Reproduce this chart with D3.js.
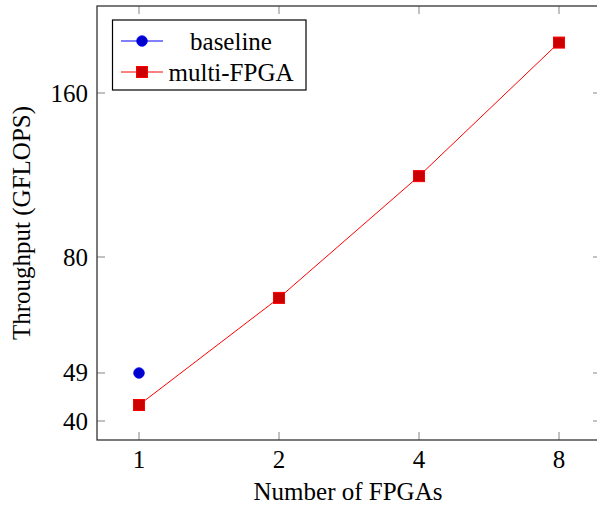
<!DOCTYPE html>
<html><head><meta charset="utf-8">
<script src="https://cdn.jsdelivr.net/npm/d3@7"></script>
<style>body{margin:0;background:#fff}svg{display:block}text{font-family:"Liberation Serif","Times New Roman",serif;fill:#000}</style>
</head><body>
<svg id="c" width="597" height="507"></svg>
<script>
const xTicks = [1, 2, 4, 8];
const yTicks = [40, 49, 80, 160];
const baselineX = [1];
const baselineY = [49];
const multiX = [1, 2, 4, 8];
const multiY = [42.8, 67.3, 112.6, 198];
const seriesNames = ["baseline", "multi-FPGA"];

const svg = d3.select("#c");
const L = 97, R = 601, T = 6, B = 440;
const x = d3.scaleLog().base(2).domain([0.8125, 9.85]).range([L, R]);
const y = d3.scaleLog().base(2).domain([36.92, 231]).range([B, T]);
// fit x: 1 -> 139, 8 -> 559
x.domain([Math.pow(2, (L-139)/140), Math.pow(2, 3 + (R-559)/140)]);
y.domain([40*Math.pow(2, (421-B)/164), 40*Math.pow(2, (421-T)/164)]);

const fs = 25;
const tickLen = 8;
const g = svg.append("g");
// ticks
xTicks.forEach(t => {
  const px = x(t);
  g.append("line").attr("x1", px).attr("x2", px).attr("y1", B).attr("y2", B - tickLen).attr("stroke", "#999").attr("stroke-width", 1.2);
  g.append("line").attr("x1", px).attr("x2", px).attr("y1", T).attr("y2", T + tickLen).attr("stroke", "#999").attr("stroke-width", 1.2);
  g.append("text").attr("x", px).attr("y", 468).attr("text-anchor", "middle").attr("font-size", fs).text(t);
});
yTicks.forEach(t => {
  const py = y(t);
  g.append("line").attr("x1", L).attr("x2", L + tickLen).attr("y1", py).attr("y2", py).attr("stroke", "#999").attr("stroke-width", 1.2);
  g.append("line").attr("x1", R).attr("x2", R - tickLen).attr("y1", py).attr("y2", py).attr("stroke", "#999").attr("stroke-width", 1.2);
  g.append("text").attr("x", 88).attr("y", py + 8.5).attr("text-anchor", "end").attr("font-size", fs).text(t);
});
// frame
g.append("rect").attr("x", L).attr("y", T).attr("width", R - L).attr("height", B - T)
  .attr("fill", "none").attr("stroke", "#333").attr("stroke-width", 1.3);

// multi-FPGA line
const multi = multiX.map((d, i) => [d, multiY[i]]);
g.append("path").datum(multi).attr("fill", "none").attr("stroke", "#ff0000").attr("stroke-width", 1)
  .attr("d", d3.line().x(d => x(d[0])).y(d => y(d[1])));
const sq = 11;
g.selectAll(".sq").data(multi).enter().append("rect")
  .attr("x", d => x(d[0]) - sq/2).attr("y", d => y(d[1]) - sq/2).attr("width", sq).attr("height", sq)
  .attr("fill", "#cc0000").attr("stroke", "#ff0000").attr("stroke-width", 1);
// baseline
const base = baselineX.map((d, i) => [d, baselineY[i]]);
g.append("path").datum(base).attr("fill", "none").attr("stroke", "#0000ff").attr("stroke-width", 1)
  .attr("d", d3.line().x(d => x(d[0])).y(d => y(d[1])));
g.selectAll(".ci").data(base).enter().append("circle")
  .attr("cx", d => x(d[0])).attr("cy", d => y(d[1])).attr("r", 5.3)
  .attr("fill", "#0000cc").attr("stroke", "#0000ff").attr("stroke-width", 0.8);

// legend
const lg = svg.append("g");
lg.append("rect").attr("x", 112.5).attr("y", 20).attr("width", 193.5).attr("height", 70)
  .attr("fill", "#fff").attr("stroke", "#000").attr("stroke-width", 1.2);
const ly = [41, 72];
lg.append("line").attr("x1", 121).attr("x2", 163).attr("y1", ly[0]).attr("y2", ly[0]).attr("stroke", "#0000ff").attr("stroke-width", 1);
lg.append("circle").attr("cx", 142).attr("cy", ly[0]).attr("r", 5.3).attr("fill", "#0000cc").attr("stroke", "#0000ff").attr("stroke-width", 0.8);
lg.append("line").attr("x1", 121).attr("x2", 163).attr("y1", ly[1]).attr("y2", ly[1]).attr("stroke", "#ff0000").attr("stroke-width", 1);
lg.append("rect").attr("x", 142 - sq/2).attr("y", ly[1] - sq/2).attr("width", sq).attr("height", sq).attr("fill", "#cc0000").attr("stroke", "#ff0000").attr("stroke-width", 1);
seriesNames.forEach((n, i) => {
  lg.append("text").attr("x", 231).attr("y", ly[i] + 8.5).attr("text-anchor", "middle").attr("font-size", fs).text(n);
});

// axis titles
svg.append("text").attr("x", (L + 597) / 2 + 50 - 49).attr("y", 500).attr("text-anchor", "middle").attr("font-size", fs).text("Number of FPGAs");
svg.append("text").attr("transform", `translate(30,${(T + B) / 2}) rotate(-90)`).attr("text-anchor", "middle").attr("font-size", fs).text("Throughput (GFLOPS)");
</script>
</body></html>
